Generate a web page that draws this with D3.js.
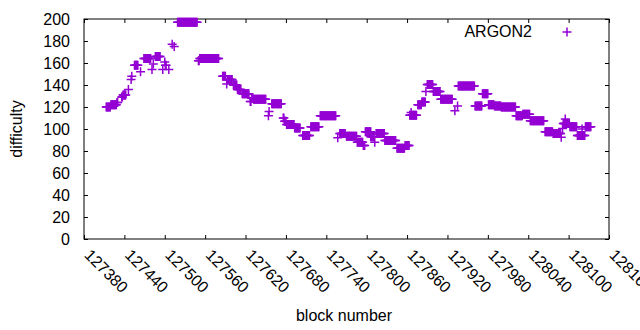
<!DOCTYPE html>
<html>
<head>
<meta charset="utf-8">
<script src="https://cdn.jsdelivr.net/npm/d3@7"></script>
<style>
  body { margin: 0; background: #fff; }
  svg { display: block; font-family: "Liberation Sans", Arial, sans-serif; }
  .axis path, .axis line { stroke: #000; }
</style>
</head>
<body>
<svg id="chart" width="640" height="330"></svg>
<script>
// runs of blocks that share one difficulty value (first block, last block, difficulty)
const runStart = [127413,127420,127429,127436,127438,127446,127450,127451,127455,127464,
  127469,127481,127483,127486,127497,127500,127501,127506,127511,127514,
  127519,127550,127552,127586,127592,127593,127602,127608,127615,127627,
  127629,127632,127654,127655,127659,127676,127678,127681,127687,127693,
  127705,127717,127731,127757,127760,127770,127786,127795,127798,127806,
  127812,127814,127827,127845,127857,127864,127866,127876,127882,127888,
  127890,127899,127910,127931,127935,127936,127961,127972,127981,127990,
  128000,128022,128032,128043,128065,128077,128089,128091,128092,128095,
  128102,128113,128120,128125];
const runEnd = [127419,127428,127430,127437,127442,127446,127450,127451,127460,127464,
  127479,127481,127483,127493,127497,127500,127502,127506,127511,127514,
  127548,127551,127580,127590,127592,127600,127607,127613,127625,127628,
  127631,127650,127654,127655,127673,127677,127680,127686,127692,127701,
  127715,127729,127754,127757,127768,127785,127794,127797,127806,127811,
  127812,127826,127843,127856,127863,127874,127866,127881,127887,127888,
  127898,127909,127927,127931,127935,127960,127971,127980,127989,127999,
  128021,128031,128042,128063,128076,128088,128089,128091,128101,128095,
  128112,128124,128120,128133];
const runDiff = [120,122,124,129,131,136,145,148,158,152,
  164,154,159,166,154,161,158,154,177,175,
  197,162,164,148,141,145,140,136,132,125,
  128,127,112,116,123,110,107,104,104,101,
  94,102,112,92,96,93.5,88,85,97.5,93,
  88,96,89.5,82.5,85,112.5,115,122,124.5,134,
  140.5,134,127,116.5,121,139,121,132,122,121,
  120,112,113.5,107.5,97.5,96,92.5,100.5,105,109,
  102,94,100,102];

const xTicks = [127380,127440,127500,127560,127620,127680,127740,127800,127860,127920,127980,128040,128100,128160];
const yTicks = [0,20,40,60,80,100,120,140,160,180,200];
const seriesName = "ARGON2";

const points = [];
runStart.forEach((s, i) => {
  for (let b = s; b <= runEnd[i]; b++) points.push({ block: b, diff: runDiff[i] });
});

const svg = d3.select("#chart");
const plotL = 84, plotR = 609, plotT = 19, plotB = 239;
const color = "#9400d3";
const fs = 16;

const x = d3.scaleLinear().domain([127380, 128160]).range([plotL, plotR]);
const y = d3.scaleLinear().domain([0, 200]).range([plotB, plotT]);

// x axis, ticks inward, labels turned by 45 degrees
const xAxis = svg.append("g").attr("class", "axis")
  .attr("transform", "translate(0," + plotB + ")")
  .call(d3.axisBottom(x).tickValues(xTicks).tickSize(-4).tickFormat(d3.format("d")));
xAxis.select(".domain").remove();
xAxis.selectAll("text")
  .attr("font-size", fs).attr("font-family", null)
  .attr("fill", "#000")
  .attr("text-anchor", "start")
  .attr("dy", null).attr("y", null)
  .attr("transform", "translate(-1,17) rotate(45)");

// mirrored ticks on top
svg.append("g").attr("class", "axis")
  .attr("transform", "translate(0," + plotT + ")")
  .call(d3.axisTop(x).tickValues(xTicks).tickSize(-4).tickFormat(""))
  .select(".domain").remove();

const yAxis = svg.append("g").attr("class", "axis")
  .attr("transform", "translate(" + plotL + ",0)")
  .call(d3.axisLeft(y).tickValues(yTicks).tickSize(-4).tickPadding(14));
yAxis.select(".domain").remove();
yAxis.selectAll("text").attr("font-size", fs).attr("font-family", null).attr("fill", "#000");

svg.append("g").attr("class", "axis")
  .attr("transform", "translate(" + plotR + ",0)")
  .call(d3.axisRight(y).tickValues(yTicks).tickSize(-4).tickFormat(""))
  .select(".domain").remove();

// border
svg.append("rect")
  .attr("x", plotL).attr("y", plotT)
  .attr("width", plotR - plotL).attr("height", plotB - plotT)
  .attr("fill", "none").attr("stroke", "#000").attr("stroke-width", 1);

// + markers
const plus = "M-4.5,0H4.5M0,-4.5V4.5";
svg.append("g").selectAll("path")
  .data(points)
  .join("path")
  .attr("transform", d => "translate(" + x(d.block) + "," + y(d.diff) + ")")
  .attr("d", plus)
  .attr("stroke", color)
  .attr("stroke-width", 1.5)
  .attr("fill", "none");

// legend
svg.append("text")
  .attr("x", 532).attr("y", 37)
  .attr("text-anchor", "end")
  .attr("font-size", fs)
  .text(seriesName);
svg.append("path")
  .attr("transform", "translate(567,32)")
  .attr("d", plus)
  .attr("stroke", color).attr("stroke-width", 1.5);

// axis titles
svg.append("text")
  .attr("x", 344).attr("y", 321)
  .attr("text-anchor", "middle")
  .attr("font-size", fs)
  .text("block number");
svg.append("text")
  .attr("transform", "translate(22,129) rotate(-90)")
  .attr("text-anchor", "middle")
  .attr("font-size", fs)
  .text("difficulty");
</script>
</body>
</html>
